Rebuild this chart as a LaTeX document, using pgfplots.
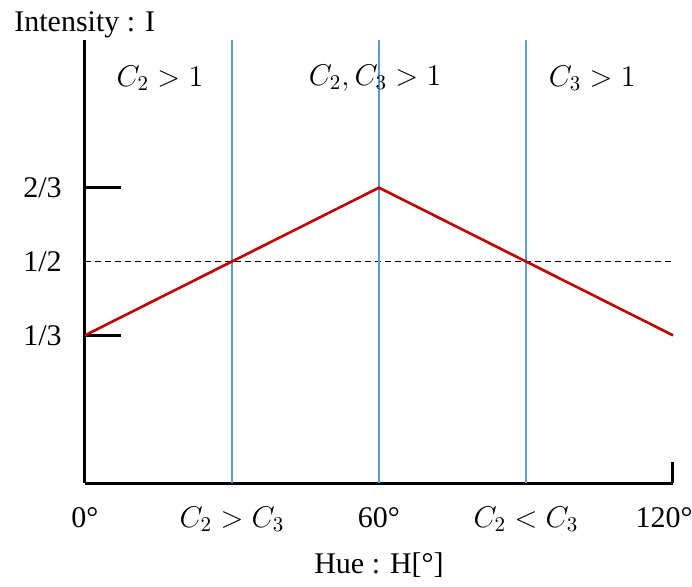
\documentclass[border=0pt]{standalone}
\usepackage{fix-cm}
\usepackage{fontspec}
\setmainfont{Liberation Serif}
\usepackage{pgfplots}
\pgfplotsset{compat=1.18}

\definecolor{hueRed}{HTML}{C00000}
\definecolor{hueBlue}{HTML}{5B9BD5}
\newcommand{\fsz}{\fontsize{15}{18}\selectfont}

\begin{document}
\begin{tikzpicture}
\useasboundingbox (-42.5pt,-51.5pt) rectangle (303.5pt,241.5pt);
\begin{axis}[
  scale only axis,
  width=294pt, height=221.5pt,
  xmin=0, xmax=120, ymin=0, ymax=1,
  axis lines=left,
  axis line style={-, line width=1.5pt, black},
  major tick length=0pt,
  xtick={0,30,60,90},
  xticklabels={0°, $C_2>C_3$, 60°, $C_2<C_3$},
  extra x ticks={120},
  extra x tick labels={120°},
  extra x tick style={xticklabel style={xshift=-4.5pt}},
  ytick={0.333333,0.5,0.666667},
  yticklabels={1/3, 1/2, 2/3},
  ticklabel style={font=\fsz, inner sep=0pt},
  xticklabel style={anchor=base, yshift=-22pt},
  yticklabel style={anchor=east, xshift=-11.5pt},
  clip=false,
]
% half-intensity reference level
\addplot[black, line width=0.6pt, dash pattern=on 3pt off 2pt] coordinates {(0,0.5) (120,0.5)};
% region boundaries
\addplot[hueBlue, line width=1pt] coordinates {(30,0) (30,1)};
\addplot[hueBlue, line width=1pt] coordinates {(60,0) (60,1)};
\addplot[hueBlue, line width=1pt] coordinates {(90,0) (90,1)};
% tick marks at 1/3 and 2/3, and the end of the hue axis
\addplot[black, line width=1.4pt] coordinates {(0,0.333333) (7.3,0.333333)};
\addplot[black, line width=1.4pt] coordinates {(0,0.666667) (7.3,0.666667)};
\addplot[black, line width=1.5pt] coordinates {(120,0) (120,0.048)};
% intensity over hue
\addplot[hueRed, line width=1.3pt] coordinates {(0,0.333333) (60,0.666667) (120,0.333333)};
% region conditions
\node[font=\fsz] at (axis cs:15.3,0.914) {$C_2>1$};
\node[font=\fsz] at (axis cs:59.2,0.914) {$C_2,C_3>1$};
\node[font=\fsz] at (axis cs:103.5,0.914) {$C_3>1$};
\end{axis}
\node[font=\fsz, anchor=base west, inner sep=0pt] at (-35.5pt,226pt) {Intensity : I};
\node[font=\fsz, anchor=base, inner sep=0pt] at (147pt,-45pt) {Hue : H[°]};
\end{tikzpicture}
\end{document}
